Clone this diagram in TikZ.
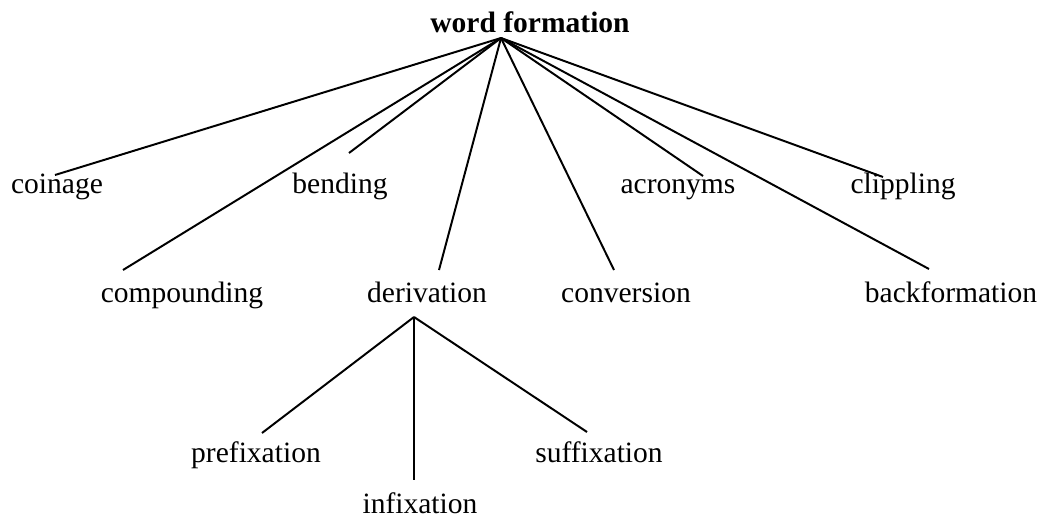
\documentclass[tikz,border=0pt]{standalone}
\usepackage{fontspec}
\setmainfont{Liberation Serif}
\usepackage{tikz}

\begin{document}
\begin{tikzpicture}[x=0.025cm,y=-0.025cm,
	label/.style={inner sep=0pt,anchor=base,font=\fontsize{21}{25}\selectfont},
	branch/.style={-,line width=1.4pt}]
	\useasboundingbox (0,0) rectangle (1062,519);

	\node[label,font=\fontsize{21}{25}\selectfont\bfseries] (wf) at (530,33) {word formation};
	\node[label] (coinage) at (57,193) {coinage};
	\node[label] (bending) at (340,193) {bending};
	\node[label] (acronyms) at (678,193) {acronyms};
	\node[label] (clippling) at (903,193) {clippling};
	\node[label] (compounding) at (182,302) {compounding};
	\node[label] (derivation) at (427,302) {derivation};
	\node[label] (conversion) at (626,302) {conversion};
	\node[label] (backformation) at (951,302) {backformation};
	\node[label] (prefixation) at (256,462) {prefixation};
	\node[label] (suffixation) at (599,462) {suffixation};
	\node[label] (infixation) at (420,513) {infixation};

	\coordinate (top) at (501,38);
	\coordinate (dtop) at (414,317);
	\coordinate (coinage-tip) at (55,175);
	\coordinate (bending-tip) at (349,153);
	\coordinate (acronyms-tip) at (703,176);
	\coordinate (clippling-tip) at (883,177);
	\coordinate (compounding-tip) at (123,270);
	\coordinate (derivation-tip) at (439,270);
	\coordinate (conversion-tip) at (614,270);
	\coordinate (backformation-tip) at (929,269);
	\coordinate (prefixation-tip) at (262,433);
	\coordinate (infixation-tip) at (414,480);
	\coordinate (suffixation-tip) at (587,432);

	\path [branch] (top) edge (coinage-tip);
	\path [branch] (top) edge (bending-tip);
	\path [branch] (top) edge (acronyms-tip);
	\path [branch] (top) edge (clippling-tip);
	\path [branch] (top) edge (compounding-tip);
	\path [branch] (top) edge (derivation-tip);
	\path [branch] (top) edge (conversion-tip);
	\path [branch] (top) edge (backformation-tip);
	\path [branch] (dtop) edge (prefixation-tip);
	\path [branch] (dtop) edge (infixation-tip);
	\path [branch] (dtop) edge (suffixation-tip);
\end{tikzpicture}
\end{document}
